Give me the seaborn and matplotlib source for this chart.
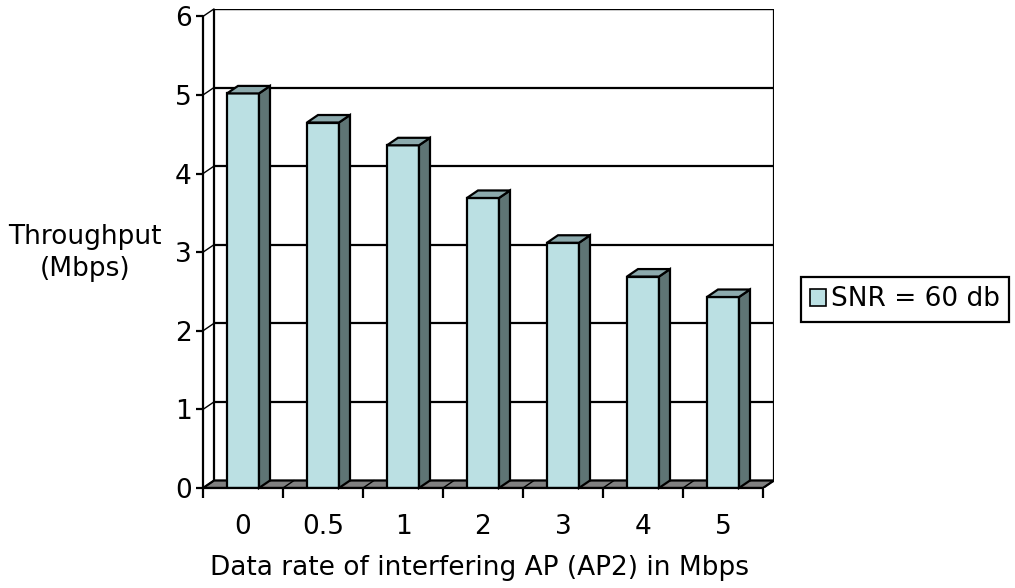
import matplotlib
matplotlib.use("Agg")
import matplotlib.pyplot as plt
from matplotlib.patches import Polygon
import seaborn as sns
import pandas as pd

# Data
rates = ["0", "0.5", "1", "2", "3", "4", "5"]
throughput = [5.02, 4.65, 4.36, 3.69, 3.12, 2.69, 2.43]
series_name = "SNR = 60 db"
y_ticks = [0, 1, 2, 3, 4, 5, 6]

df = pd.DataFrame({"rate": rates, "throughput": throughput})

sns.set_style("white")
plt.rcParams["font.family"] = ["DejaVu Sans"]
plt.rcParams["text.color"] = "black"
plt.rcParams["axes.labelcolor"] = "black"
plt.rcParams["xtick.color"] = "black"
plt.rcParams["ytick.color"] = "black"

FACE = "#BBE0E3"
SIDE = "#5F7575"
TOP = "#8CAAAD"
FLOOR = "#808080"
LW = 1.6
FS = 19

# pseudo-3D depth offsets in data units
DX = 11 / 80
DY = 7.5 / 78.6

W, H = 1015, 588
fig = plt.figure(figsize=(W / 100, H / 100), dpi=100)
ax_w_px = (7 + DX) * 80
ax_h_px = (6 + DY) * 78.6
ax = fig.add_axes([203 / W, (H - 488) / H, ax_w_px / W, ax_h_px / H])

sns.barplot(data=df, x="rate", y="throughput", order=rates, color=FACE,
            saturation=1, width=0.4, edgecolor="black", linewidth=LW,
            ax=ax, zorder=4)

ax.set_xlim(-0.5, 6.5 + DX)
ax.set_ylim(0, 6 + DY)

for s in ax.spines.values():
    s.set_visible(False)

# back wall
wall_x0, wall_x1 = -0.5 + DX, 6.5 + DX
ax.add_patch(Polygon([(wall_x0, DY), (wall_x1, DY), (wall_x1, 6 + DY), (wall_x0, 6 + DY)],
                     closed=True, facecolor="white", edgecolor="black", lw=LW, zorder=1))
for k in y_ticks[1:]:
    ax.plot([wall_x0, wall_x1], [k + DY, k + DY], color="black", lw=LW, zorder=1.2)
    ax.plot([-0.5, wall_x0], [k, k + DY], color="black", lw=1.0, zorder=1.2, clip_on=False)

# floor
ax.add_patch(Polygon([(-0.5, 0), (6.5, 0), (wall_x1, DY), (wall_x0, DY)], closed=True,
                     facecolor=FLOOR, edgecolor="black", lw=LW, zorder=2))
for i in range(len(rates) + 1):
    ax.plot([i - 0.5, i - 0.5 + DX], [0, DY], color="black", lw=1.0, zorder=2.1)

# side and top faces of each column
for p in list(ax.patches):
    if p.get_facecolor()[:3] == matplotlib.colors.to_rgb(FACE) and p.get_height() > 0:
        x0, w, h = p.get_x(), p.get_width(), p.get_height()
        ax.add_patch(Polygon([(x0 + w, 0), (x0 + w + DX, DY), (x0 + w + DX, h + DY), (x0 + w, h)],
                             closed=True, facecolor=SIDE, edgecolor="black", lw=LW, zorder=4,
                             clip_on=False))
        ax.add_patch(Polygon([(x0, h), (x0 + DX, h + DY), (x0 + w + DX, h + DY), (x0 + w, h)],
                             closed=True, facecolor=TOP, edgecolor="black", lw=LW, zorder=4,
                             clip_on=False))

# front axes lines
ax.plot([-0.5, -0.5], [0, 6], color="black", lw=LW, zorder=5, clip_on=False)
ax.plot([-0.5, 6.5], [0, 0], color="black", lw=LW, zorder=5, clip_on=False)

# ticks
ax.set_yticks(y_ticks)
ax.set_yticklabels([str(t) for t in y_ticks], fontsize=FS)
ax.tick_params(axis="y", direction="out", length=5, width=LW, pad=3, left=True, colors="black")
ax.set_xticks(range(len(rates)))
ax.set_xticklabels(rates, fontsize=FS)
ax.set_xticks([i - 0.5 for i in range(len(rates) + 1)], minor=True)
ax.tick_params(axis="x", which="major", length=0, pad=19, colors="black")
ax.tick_params(axis="x", which="minor", direction="out", length=7, width=LW, bottom=True)
ax.grid(False)

ax.set_xlabel("Data rate of interfering AP (AP2) in Mbps", fontsize=FS, color="black")
ax.xaxis.set_label_coords((479 - 203) / ax_w_px, (488 - 555) / ax_h_px)
ax.set_ylabel("Throughput\n(Mbps)", fontsize=FS, rotation=0, ha="center", va="center",
              linespacing=1.25, color="black")
ax.yaxis.set_label_coords((85 - 203) / ax_w_px, (488 - 253) / ax_h_px)

if ax.get_legend() is not None:
    ax.get_legend().remove()

leg = fig.legend(handles=[Polygon([(0, 0)], facecolor=FACE, edgecolor="black", lw=1.2)],
                 labels=[series_name], loc="center",
                 bbox_to_anchor=(905 / W, 1 - 299.5 / H), fontsize=FS, frameon=True,
                 fancybox=False, edgecolor="black", framealpha=1, handlelength=0.6,
                 handleheight=0.6, handletextpad=0.2, borderpad=0.35, borderaxespad=0)
leg.get_frame().set_linewidth(LW)
for t in leg.get_texts():
    t.set_color("black")

fig.savefig("out.png", dpi=100)
